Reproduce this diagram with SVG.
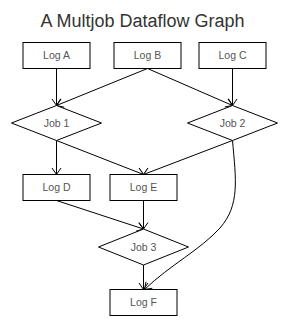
<svg xmlns="http://www.w3.org/2000/svg" width="289" height="327" viewBox="0 0 289 327">
<style>
  .box { fill: #ffffff; stroke: #000000; stroke-width: 1; }
  .lbl { font-family: "Liberation Sans", Arial, sans-serif; font-size: 10.5px; fill: #555555; text-anchor: middle; }
  .title { font-family: "Liberation Sans", Arial, sans-serif; font-size: 18px; fill: #333333; text-anchor: middle; }
  .edge { fill: none; stroke: #000000; stroke-width: 1; marker-end: url(#vee); }
</style>
<defs>
  <marker id="vee" markerUnits="userSpaceOnUse" markerWidth="12" markerHeight="12" refX="0" refY="0" viewBox="-8 -6 10 12" orient="auto">
    <path d="M-6.5,-4.5 L0,0 L-6.5,4.5" fill="none" stroke="#000000" stroke-width="1"/>
  </marker>
</defs>
<rect width="289" height="327" fill="#ffffff"/>
<text class="title" x="142.5" y="27">A Multjob Dataflow Graph</text>
<g id="connectors">
  <path class="edge" d="M56.5,68.5 L56.5,105.5"/>
  <path class="edge" d="M147.5,68.5 L56.5,105.5"/>
  <path class="edge" d="M147.5,68.5 L232.5,105.5"/>
  <path class="edge" d="M232.5,68.5 L232.5,105.5"/>
  <path class="edge" d="M56.5,140.5 L56.5,174.5"/>
  <path class="edge" d="M56.5,140.5 L143.5,174.5"/>
  <path class="edge" d="M232.5,140.5 L143.5,174.5"/>
  <path class="edge" d="M232.5,140.5 C236,180 240,205 220,228 C200,250 170,265 144.5,289.5"/>
  <path class="edge" d="M56.5,200.5 L143.5,229"/>
  <path class="edge" d="M143.5,200.5 L143.5,229"/>
  <path class="edge" d="M143.5,265 L143.5,289.5"/>
</g>
<g id="logA"><rect class="box" x="23" y="42.5" width="67" height="26"/><text class="lbl" x="56.5" y="59">Log A</text></g>
<g id="logB"><rect class="box" x="114" y="42.5" width="67" height="26"/><text class="lbl" x="147.5" y="59">Log B</text></g>
<g id="logC"><rect class="box" x="199" y="42.5" width="67" height="26"/><text class="lbl" x="232.5" y="59">Log C</text></g>
<g id="job1"><polygon class="box" points="11.5,123 56.5,105.5 101.5,123 56.5,140.5"/><text class="lbl" x="56.5" y="126.7">Job 1</text></g>
<g id="job2"><polygon class="box" points="187.5,123 232.5,105.5 277.5,123 232.5,140.5"/><text class="lbl" x="232.5" y="126.7">Job 2</text></g>
<g id="logD"><rect class="box" x="23" y="174.5" width="67" height="26"/><text class="lbl" x="56.5" y="191">Log D</text></g>
<g id="logE"><rect class="box" x="110" y="174.5" width="67" height="26"/><text class="lbl" x="143.5" y="191">Log E</text></g>
<g id="job3"><polygon class="box" points="98.5,247 143.5,229 188.5,247 143.5,265"/><text class="lbl" x="143.5" y="250.7">Job 3</text></g>
<g id="logF"><rect class="box" x="110" y="289.5" width="67" height="26"/><text class="lbl" x="143.5" y="306">Log F</text></g>
</svg>
